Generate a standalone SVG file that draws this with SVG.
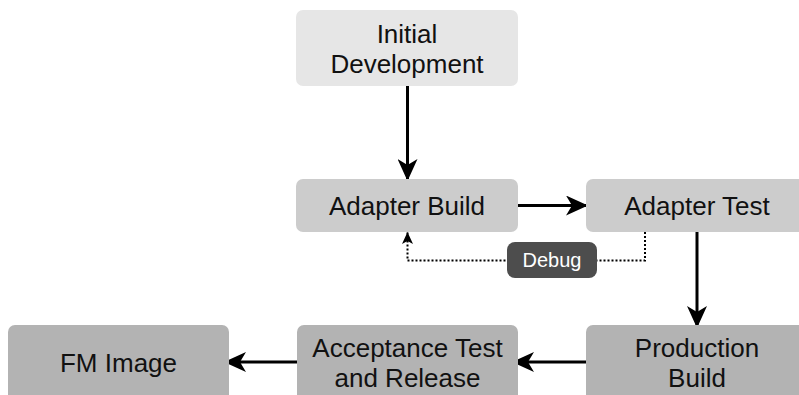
<svg xmlns="http://www.w3.org/2000/svg" width="799" height="395" viewBox="0 0 799 395">
<style>
.t{font-family:"Liberation Sans",Arial,sans-serif;font-size:26px;fill:#111;text-anchor:middle}
.edge{stroke:#000;stroke-width:3;fill:none}
.dot{stroke:#000;stroke-width:2;stroke-dasharray:2 2;fill:none}
</style>
<defs>
<marker id="ah" viewBox="0 0 22 20" refX="22" refY="10" markerWidth="22" markerHeight="20" markerUnits="userSpaceOnUse" orient="auto">
<path d="M0,0 L22,10 L0,20 L6,10 Z" fill="#000"/>
</marker>
<marker id="ahs" viewBox="0 0 12 11" refX="12" refY="5.5" markerWidth="12" markerHeight="11" markerUnits="userSpaceOnUse" orient="auto">
<path d="M0,0 L12,5.5 L0,11 L3,5.5 Z" fill="#000"/>
</marker>
</defs>
<g id="connectors">
<line class="edge" x1="407.5" y1="86" x2="407.5" y2="181" marker-end="url(#ah)"/>
<line class="edge" x1="518" y1="205.5" x2="588" y2="205.5" marker-end="url(#ah)"/>
<line class="edge" x1="697" y1="232" x2="697" y2="328" marker-end="url(#ah)"/>
<line class="edge" x1="586" y1="362" x2="512" y2="362" marker-end="url(#ah)"/>
<line class="edge" x1="297" y1="362" x2="224" y2="362" marker-end="url(#ah)"/>
<path class="dot" d="M645,232 V260.5 H407.5 V232" marker-end="url(#ahs)"/>
</g>
<g id="initial">
<rect x="296" y="10" width="222" height="76" rx="7" fill="#e6e6e6"/>
<text class="t" x="407" y="43">Initial</text>
<text class="t" x="407" y="73">Development</text>
</g>
<g id="adapterBuild">
<rect x="296" y="179" width="222" height="53" rx="7" fill="#cccccc"/>
<text class="t" x="407" y="215">Adapter Build</text>
</g>
<g id="adapterTest">
<rect x="586" y="179" width="222" height="53" rx="7" fill="#cccccc"/>
<text class="t" x="697" y="215">Adapter Test</text>
</g>
<g id="debug">
<rect x="507" y="242" width="90" height="36" rx="8" fill="#4d4d4d"/>
<text class="t" x="552" y="267" style="font-size:20px;fill:#fff">Debug</text>
</g>
<g id="production">
<rect x="586" y="325" width="222" height="80" rx="7" fill="#b3b3b3"/>
<text class="t" x="697" y="357">Production</text>
<text class="t" x="697" y="387">Build</text>
</g>
<g id="acceptance">
<rect x="297" y="325" width="221" height="80" rx="7" fill="#b3b3b3"/>
<text class="t" x="407.5" y="357">Acceptance Test</text>
<text class="t" x="407.5" y="387">and Release</text>
</g>
<g id="fmImage">
<rect x="8" y="325" width="221" height="80" rx="7" fill="#b3b3b3"/>
<text class="t" x="118.5" y="372">FM Image</text>
</g>
</svg>
